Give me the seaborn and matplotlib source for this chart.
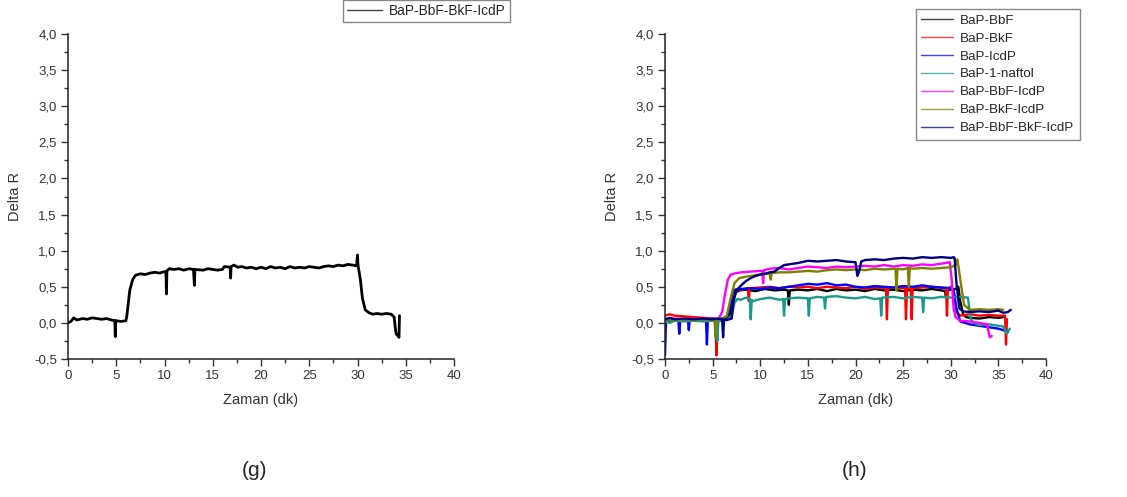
import numpy as np
import pandas as pd
import matplotlib
matplotlib.use("Agg")
import matplotlib.pyplot as plt
from matplotlib.ticker import MultipleLocator, FuncFormatter
from matplotlib.lines import Line2D
import seaborn as sns

# (g) BaP-BbF-BkF-IcdP
g_t = [0, 0.3, 0.6, 0.9, 1.5, 2, 2.5, 3, 3.5, 4, 4.5, 4.85, 4.9, 4.95, 5.5, 6.0, 6.1, 6.4, 6.7,
       7.0, 7.5, 8, 8.5, 9, 9.5, 10, 10.15, 10.2, 10.25, 10.5, 11, 11.5, 12, 12.5, 13.0, 13.1, 13.15,
       14, 14.5, 15, 15.5, 16, 16.2, 16.8, 16.85, 16.9, 17.2, 17.6, 18, 18.5, 19, 19.5, 20, 20.5,
       21, 21.5, 22, 22.5, 23, 23.5, 24, 24.5, 25, 25.5, 26, 26.5, 27, 27.5, 28, 28.5, 29, 29.5,
       29.9, 30.0, 30.05, 30.3, 30.5, 30.8, 31.2, 31.6, 32, 32.5, 33, 33.5, 33.8, 33.9, 34.0, 34.2,
       34.3, 34.35]
g_v = [0.0, 0.02, 0.07, 0.04, 0.06, 0.05, 0.07, 0.06, 0.05, 0.06, 0.04, 0.03, -0.19, 0.03, 0.02, 0.03, 0.1, 0.45, 0.6,
       0.66, 0.68, 0.67, 0.69, 0.70, 0.69, 0.71, 0.70, 0.40, 0.72, 0.75, 0.74, 0.75, 0.73, 0.75, 0.74, 0.52, 0.74,
       0.73, 0.75, 0.74, 0.73, 0.74, 0.78, 0.77, 0.62, 0.78, 0.80, 0.77, 0.78, 0.76, 0.77, 0.75, 0.77, 0.75,
       0.78, 0.76, 0.77, 0.75, 0.78, 0.76, 0.77, 0.76, 0.78, 0.77, 0.76, 0.78, 0.79, 0.78, 0.80, 0.79, 0.81, 0.80,
       0.79, 0.94, 0.80, 0.6, 0.35, 0.18, 0.14, 0.12, 0.13, 0.12, 0.13, 0.12, 0.08, -0.05, -0.15, -0.18,
       -0.2, 0.1]

# (h) all seven mixtures
h_names = ["BaP-BbF", "BaP-BkF", "BaP-IcdP", "BaP-1-naftol",
           "BaP-BbF-IcdP", "BaP-BkF-IcdP", "BaP-BbF-BkF-IcdP"]
h_colors = ["#000000", "#ff0000", "#0000ff", "#1a9a8a", "#ff00ff", "#808000", "#000080"]

bbf_t = [0, 0.5, 1, 2, 3, 4, 5, 5.5, 6, 6.5, 6.8, 7.1, 7.4, 7.8, 8.5, 9.5, 10.5, 11.5, 12.5, 12.9, 13.0,
         13.1, 14, 15, 16, 17, 18, 19, 20, 21, 22, 23, 24, 25, 26, 27, 28, 29, 29.4, 29.5, 29.6, 30,
         30.5, 30.8, 31.0, 31.3, 31.6, 32, 33, 34, 35, 35.5]
bbf_v = [0.05, 0.03, 0.05, 0.04, 0.05, 0.04, 0.05, 0.03, 0.04, 0.05, 0.12, 0.3, 0.42, 0.45, 0.46, 0.44, 0.47,
         0.45, 0.46, 0.45, 0.25, 0.45, 0.46, 0.45, 0.47, 0.44, 0.47, 0.45, 0.46, 0.44, 0.47, 0.45, 0.46, 0.44,
         0.46, 0.45, 0.47, 0.45, 0.44, 0.35, 0.45, 0.46, 0.47, 0.5, 0.3, 0.12, 0.08, 0.07, 0.06, 0.08, 0.07, 0.08]

bkf_t = [0, 0.5, 1, 2, 3, 4, 5, 5.3, 5.4, 5.5, 6, 6.5, 6.9, 7.2, 7.6, 8, 8.7, 8.8, 8.9, 10, 11, 12, 13,
         14, 15, 16, 17, 18, 19, 20, 21, 22, 23.2, 23.3, 23.4, 24, 25.2, 25.3, 25.4, 25.8, 25.9, 26.0,
         27, 28, 29.5, 29.6, 29.7, 30, 30.3, 30.6, 31, 32, 33, 34, 35, 35.7, 35.8, 35.9]
bkf_v = [0.1, 0.12, 0.1, 0.09, 0.08, 0.07, 0.06, 0.05, -0.45, 0.05, 0.05, 0.08, 0.3, 0.45, 0.47, 0.46, 0.48,
         0.3, 0.48, 0.49, 0.5, 0.48, 0.5, 0.49, 0.5, 0.48, 0.5, 0.49, 0.48, 0.5, 0.47, 0.49, 0.48, 0.05, 0.48,
         0.49, 0.48, 0.05, 0.48, 0.47, 0.05, 0.48, 0.49, 0.5, 0.48, 0.1, 0.48, 0.5, 0.45, 0.15, 0.1, 0.12,
         0.1, 0.11, 0.1, 0.1, -0.3, 0.05]

icdp_t = [0, 0.1, 0.3, 1, 1.4, 1.5, 1.6, 2.4, 2.5, 2.6, 3.5, 4.3, 4.4, 4.5, 5, 5.5, 6, 6.5, 6.8, 7.1,
          7.4, 8, 9, 10, 11, 12, 13, 14, 15, 16, 17, 18, 19, 20, 21, 22, 23, 24, 25, 26, 27, 28, 29,
          30, 30.3, 30.6, 31, 32, 33, 34, 35, 35.5, 36]
icdp_v = [-0.45, 0.0, 0.05, 0.04, 0.03, -0.15, 0.03, 0.04, -0.1, 0.04, 0.05, 0.04, -0.3, 0.05, 0.06, 0.05,
          0.06, 0.08, 0.2, 0.42, 0.46, 0.47, 0.48, 0.47, 0.49, 0.48, 0.5, 0.52, 0.54, 0.53, 0.55, 0.52, 0.53,
          0.5, 0.49, 0.51, 0.5, 0.49, 0.51, 0.5, 0.52, 0.5, 0.49, 0.48, 0.45, 0.2, 0.02, -0.02, -0.04, -0.06,
          -0.08, -0.1, -0.12]

naf_t = [0, 0.5, 1, 2, 3, 4, 5, 5.4, 5.5, 5.6, 6, 6.5, 7, 7.3, 7.6, 8, 8.5, 8.9, 9.0, 9.1, 9.2, 10, 11,
         12, 12.4, 12.5, 12.6, 13, 14, 15.0, 15.1, 15.2, 16, 16.7, 16.8, 16.9, 18, 19, 20, 21, 22, 22.6,
         22.7, 22.8, 24, 25, 26, 27.0, 27.1, 27.2, 28, 29, 30, 31, 31.8, 32.1, 32.4, 33, 34, 35, 35.5,
         35.9, 36.2]
naf_v = [0.02, 0.0, 0.03, 0.02, 0.03, 0.02, 0.03, 0.02, -0.25, 0.02, 0.03, 0.04, 0.1, 0.28, 0.33, 0.32,
         0.35, 0.33, 0.05, 0.32, 0.3, 0.33, 0.35, 0.32, 0.33, 0.1, 0.33, 0.34, 0.35, 0.34, 0.1, 0.34, 0.36,
         0.35, 0.2, 0.36, 0.37, 0.35, 0.34, 0.36, 0.33, 0.34, 0.1, 0.35, 0.36, 0.34, 0.36, 0.35, 0.15, 0.35,
         0.34, 0.36, 0.35, 0.36, 0.35, 0.05, 0.0, -0.03, -0.02, -0.04, -0.05, -0.15, -0.08]

bbficdp_t = [0, 1, 2, 3, 4, 5, 5.6, 6.0, 6.3, 6.6, 6.9, 7.5, 8, 9, 10, 10.2, 10.3, 10.4, 11, 12, 13, 14,
             15, 16, 17, 18, 19, 20, 21, 22, 23, 24, 25, 26, 27, 28, 29, 29.9, 30.1, 30.3, 30.5, 31, 32,
             33, 33.8, 34.1, 34.3]
bbficdp_v = [0.05, 0.06, 0.05, 0.06, 0.05, 0.06, 0.05, 0.15, 0.4, 0.6, 0.67, 0.69, 0.7, 0.71, 0.72, 0.72,
             0.55, 0.73, 0.75, 0.76, 0.74, 0.76, 0.78, 0.77, 0.76, 0.78, 0.77, 0.78, 0.79, 0.78, 0.8, 0.78,
             0.8, 0.79, 0.81, 0.8, 0.82, 0.84, 0.6, 0.2, 0.08, 0.03, 0.02, 0.0, -0.02, -0.2, -0.18]

bkficdp_t = [0, 1, 2, 3, 4, 5, 5.2, 5.3, 5.4, 6, 6.5, 6.9, 7.3, 7.8, 8.5, 9.5, 10.5, 11, 11.1, 11.2, 12,
             13, 14, 15, 16, 17, 18, 19, 20, 21, 22, 23, 24.2, 24.3, 24.4, 25, 25.5, 25.6, 25.7, 26, 27,
             28, 29, 30, 30.5, 30.7, 31, 31.4, 32, 33, 34, 35, 35.5]
bkficdp_v = [0.05, 0.04, 0.05, 0.04, 0.05, 0.04, 0.05, -0.2, 0.05, 0.06, 0.1, 0.35, 0.55, 0.62, 0.64, 0.66,
             0.68, 0.68, 0.6, 0.69, 0.7, 0.7, 0.71, 0.72, 0.71, 0.73, 0.74, 0.73, 0.74, 0.73, 0.75, 0.74,
             0.75, 0.45, 0.75, 0.74, 0.76, 0.5, 0.76, 0.75, 0.76, 0.75, 0.76, 0.77, 0.8, 0.88, 0.6, 0.25,
             0.18, 0.19, 0.18, 0.19, 0.18]

all4_t = [0, 0.5, 1, 2, 3, 4, 5, 5.5, 6.0, 6.1, 6.2, 6.5, 7.0, 7.2, 7.5, 8, 8.5, 9, 9.5, 10, 10.5, 11,
          11.5, 12, 12.5, 13, 14, 15, 16, 17, 18, 19, 20, 20.2, 20.4, 20.6, 21, 22, 23, 24, 25, 26, 27,
          28, 29, 30, 30.3, 30.4, 30.6, 30.9, 31.3, 32, 33, 34, 35, 35.5, 36, 36.3]
all4_v = [0.05, 0.07, 0.05, 0.06, 0.05, 0.06, 0.05, 0.06, 0.05, -0.2, 0.05, 0.04, 0.06, 0.3, 0.45, 0.52,
          0.58, 0.62, 0.65, 0.67, 0.68, 0.7, 0.71, 0.76, 0.8, 0.81, 0.83, 0.86, 0.85, 0.86, 0.87, 0.85,
          0.84, 0.65, 0.72, 0.85, 0.87, 0.88, 0.87, 0.89, 0.9, 0.89, 0.91, 0.9, 0.91, 0.9, 0.91, 0.9, 0.55,
          0.2, 0.16, 0.15, 0.16, 0.15, 0.17, 0.14, 0.15, 0.18]

h_times = [bbf_t, bkf_t, icdp_t, naf_t, bbficdp_t, bkficdp_t, all4_t]
h_values = [bbf_v, bkf_v, icdp_v, naf_v, bbficdp_v, bkficdp_v, all4_v]

sns.set_style("ticks")
plt.rcParams["font.family"] = ["Liberation Sans", "DejaVu Sans"]

fig = plt.figure(figsize=(11.27, 4.97), dpi=100)
ax_g = fig.add_axes([68 / 1127, 1 - 359 / 497, 386 / 1127, 325 / 497])
ax_h = fig.add_axes([665 / 1127, 1 - 359 / 497, 381 / 1127, 325 / 497])

comma = FuncFormatter(lambda v, p: f"{v:.1f}".replace(".", ","))

g_df = pd.DataFrame({"t": g_t, "v": g_v})
sns.lineplot(data=g_df, x="t", y="v", ax=ax_g, color="black", lw=2.0,
             estimator=None, sort=False, legend=False)

for name, col, t, v in zip(h_names, h_colors, h_times, h_values):
    df = pd.DataFrame({"t": t, "v": v})
    sns.lineplot(data=df, x="t", y="v", ax=ax_h, color=col, lw=1.7,
                 estimator=None, sort=False, legend=False)

for ax in (ax_g, ax_h):
    ax.set_xlim(0, 40)
    ax.set_ylim(-0.5, 4.0)
    ax.xaxis.set_major_locator(MultipleLocator(5))
    ax.xaxis.set_minor_locator(MultipleLocator(2.5))
    ax.yaxis.set_major_locator(MultipleLocator(0.5))
    ax.yaxis.set_minor_locator(MultipleLocator(0.25))
    ax.yaxis.set_major_formatter(comma)
    ax.tick_params(which="major", direction="out", length=5, width=1, labelsize=9.5,
                   colors="#333333", pad=3)
    ax.tick_params(which="minor", direction="out", length=3, width=1, colors="#333333")
    for s in ("top", "right"):
        ax.spines[s].set_visible(False)
    for s in ("left", "bottom"):
        ax.spines[s].set_linewidth(1.1)
        ax.spines[s].set_color("#222222")
    ax.set_xlabel("Zaman (dk)", fontsize=10.5, color="#333333", labelpad=8)
    ax.set_ylabel("Delta R", fontsize=10.5, color="#333333", labelpad=9)

leg_g = fig.legend([Line2D([], [], color="#444444", lw=1.0)], ["BaP-BbF-BkF-IcdP"],
                   loc="upper left", bbox_to_anchor=(343 / 1127, 1.0), fontsize=9.8,
                   fancybox=False, edgecolor="#888888", framealpha=1, handlelength=2.6,
                   handletextpad=0.5, borderpad=0.3, borderaxespad=0)
leg_g.get_frame().set_linewidth(1.0)

h_handles = [Line2D([], [], color=c, lw=1.0, alpha=0.75) for c in h_colors]
leg_h = fig.legend(h_handles, h_names, loc="upper left",
                   bbox_to_anchor=(916 / 1127, 1 - 9 / 497), fontsize=9.6,
                   fancybox=False, edgecolor="#888888", framealpha=1, handlelength=2.4,
                   handletextpad=0.5, borderpad=0.4, labelspacing=0.42, borderaxespad=0)
leg_h.get_frame().set_linewidth(1.0)

fig.text(255 / 1127, 1 - 471 / 497, "(g)", fontsize=15, ha="center", va="center")
fig.text(855 / 1127, 1 - 471 / 497, "(h)", fontsize=15, ha="center", va="center")

fig.savefig("out.png", dpi=100)
